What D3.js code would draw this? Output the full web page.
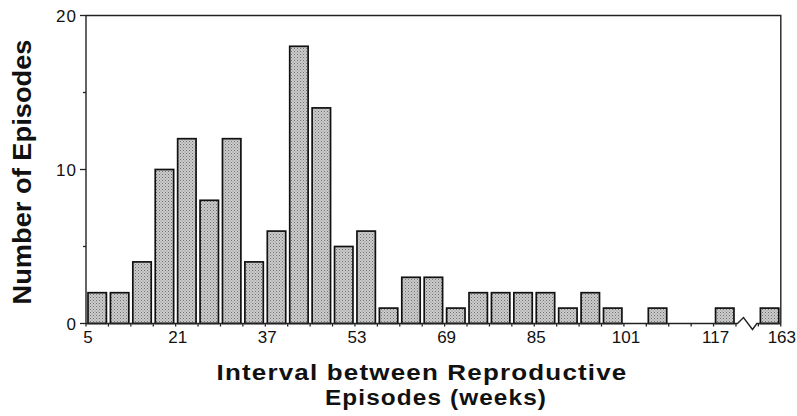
<!DOCTYPE html>
<html>
<head>
<meta charset="utf-8">
<script src="https://cdn.jsdelivr.net/npm/d3@7"></script>
<style>
  html, body { margin: 0; padding: 0; background: #fff; }
  svg { display: block; font-family: "Liberation Sans", Arial, Helvetica, sans-serif; }
</style>
</head>
<body>
<svg id="chart"></svg>
<script>
const width = 797;
const height = 416;

// interval bins (weeks, start of each 4-week bin); the last one sits after the axis break
const binStarts = [5, 9, 13, 17, 21, 25, 29, 33, 37, 41, 45, 49, 53, 57, 61, 65, 69, 73, 77, 81, 85, 89, 93, 97, 101, 105, 109, 113, 117, 163];
const episodes = [2, 2, 4, 10, 12, 8, 12, 4, 6, 18, 14, 5, 6, 1, 3, 3, 1, 2, 2, 2, 2, 1, 2, 1, 0, 1, 0, 0, 1, 1];
const xTickLabels = ["5", "21", "37", "53", "69", "85", "101", "117", "163"];
const yTicks = [0, 5, 10, 15, 20];
const yLabelled = [0, 10, 20];

const breakAfter = 117; // one empty slot holds the zigzag
const nSlots = binStarts.length + 1;
const slotOf = (i) => (binStarts[i] > breakAfter ? i + 1 : i);

const plotLeft = 86, plotRight = 780.8, plotTop = 15.5, plotBottom = 323.5;

const svg = d3.select("#chart").attr("width", width).attr("height", height);

const defs = svg.append("defs");
const pat = defs.append("pattern")
  .attr("id", "stipple")
  .attr("width", 3)
  .attr("height", 3)
  .attr("patternUnits", "userSpaceOnUse");
pat.append("rect").attr("width", 3).attr("height", 3).attr("fill", "#cbcbcb");
pat.append("rect").attr("x", 0).attr("y", 0).attr("width", 1).attr("height", 1).attr("fill", "#727272");
pat.append("rect").attr("x", 1.5).attr("y", 1.5).attr("width", 1).attr("height", 1).attr("fill", "#8e8e8e");

const x = d3.scaleLinear().domain([0, nSlots]).range([plotLeft, plotRight]);
const y = d3.scaleLinear().domain([0, 20]).range([plotBottom, plotTop]);

// bars
const data = binStarts.map((b, i) => ({ bin: b, count: episodes[i], slot: slotOf(i) }));
svg.append("g")
  .selectAll("rect")
  .data(data.filter((d) => d.count > 0))
  .join("rect")
  .attr("x", (d) => x(d.slot) + 2)
  .attr("y", (d) => y(d.count))
  .attr("width", (d) => x(d.slot + 1) - x(d.slot) - 4)
  .attr("height", (d) => y(0) - y(d.count))
  .attr("fill", "url(#stipple)")
  .attr("stroke", "#111")
  .attr("stroke-width", 1.7);

// frame: top and right
svg.append("path")
  .attr("d", `M${plotLeft},${plotTop}H${plotRight}V${plotBottom}`)
  .attr("fill", "none")
  .attr("stroke", "#222")
  .attr("stroke-width", 1.4);

// y axis
const yAxis = svg.append("g").attr("transform", `translate(${plotLeft},0)`);
yAxis.append("line")
  .attr("x1", 0).attr("x2", 0)
  .attr("y1", y(20)).attr("y2", y(0))
  .attr("stroke", "#222").attr("stroke-width", 1.4);
yAxis.selectAll("line.tick")
  .data(yTicks)
  .join("line")
  .attr("class", "tick")
  .attr("x1", (d) => (yLabelled.includes(d) ? -6 : -3))
  .attr("x2", 0)
  .attr("y1", (d) => y(d))
  .attr("y2", (d) => y(d))
  .attr("stroke", "#222")
  .attr("stroke-width", 1.3);
yAxis.selectAll("text")
  .data(yLabelled)
  .join("text")
  .attr("x", -9)
  .attr("y", (d) => y(d))
  .attr("dy", "0.36em")
  .attr("text-anchor", "end")
  .attr("font-size", 17)
  .attr("letter-spacing", 1)
  .attr("fill", "#111")
  .text((d) => d);

// x axis with break
const x0 = x(nSlots - 2) + 1.5, x1 = x(nSlots - 1) - 1.5;
const xAxis = svg.append("g");
xAxis.append("path")
  .attr("d", `M${plotLeft},${plotBottom}H${x0}L${x0 + 6},${plotBottom - 6}L${x0 + 15},${plotBottom + 6}L${x1},${plotBottom}H${plotRight}`)
  .attr("fill", "none")
  .attr("stroke", "#222")
  .attr("stroke-width", 1.4);
xAxis.selectAll("line.tick")
  .data(d3.range(0, nSlots + 1))
  .join("line")
  .attr("class", "tick")
  .attr("x1", (d) => x(d))
  .attr("x2", (d) => x(d))
  .attr("y1", plotBottom)
  .attr("y2", plotBottom + 3)
  .attr("stroke", "#222")
  .attr("stroke-width", 1.3);
const tickSlot = (lab) => (+lab > breakAfter ? nSlots : slotOf(binStarts.indexOf(+lab)));
xAxis.selectAll("text")
  .data(xTickLabels)
  .join("text")
  .attr("x", (d) => (+d > breakAfter ? width - 1 : x(tickSlot(d)) + 2))
  .attr("y", 343)
  .attr("text-anchor", (d) => (+d > breakAfter ? "end" : "middle"))
  .attr("font-size", 17)
  .attr("fill", "#111")
  .text((d) => d);

// titles
svg.append("text")
  .attr("transform", "translate(31,172) rotate(-90)")
  .attr("text-anchor", "middle")
  .attr("font-size", 25)
  .attr("font-weight", "bold")
  .attr("textLength", 265)
  .attr("lengthAdjust", "spacingAndGlyphs")
  .attr("fill", "#111")
  .text("Number of Episodes");

svg.append("text")
  .attr("x", 422)
  .attr("y", 380)
  .attr("text-anchor", "middle")
  .attr("font-size", 22)
  .attr("font-weight", "bold")
  .attr("letter-spacing", 1)
  .attr("textLength", 411)
  .attr("lengthAdjust", "spacingAndGlyphs")
  .attr("fill", "#111")
  .text("Interval between Reproductive");

svg.append("text")
  .attr("x", 436)
  .attr("y", 405)
  .attr("text-anchor", "middle")
  .attr("font-size", 22)
  .attr("font-weight", "bold")
  .attr("letter-spacing", 1)
  .attr("textLength", 222)
  .attr("lengthAdjust", "spacingAndGlyphs")
  .attr("fill", "#111")
  .text("Episodes (weeks)");
</script>
</body>
</html>
